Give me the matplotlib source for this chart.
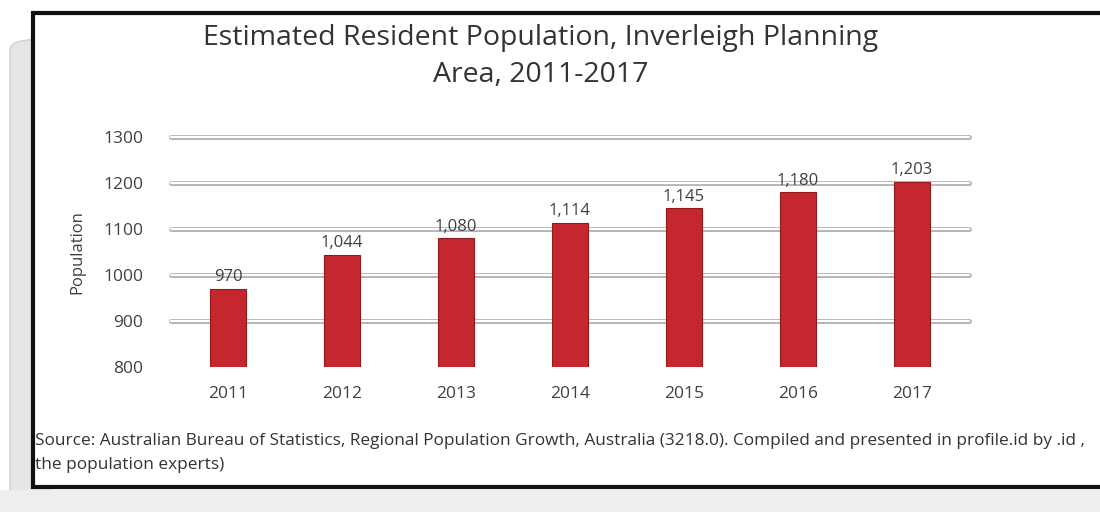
import matplotlib.pyplot as plt
from matplotlib.patches import Rectangle, FancyBboxPatch

years = ["2011", "2012", "2013", "2014", "2015", "2016", "2017"]
population = [970, 1044, 1080, 1114, 1145, 1180, 1203]
y_ticks = [800, 900, 1000, 1100, 1200, 1300]

TEXT = "#404040"
BAR = "#c4282e"
BAR_EDGE = "#8e1a1f"

plt.rcParams["font.family"] = ["Open Sans", "DejaVu Sans"]

fig = plt.figure(figsize=(11, 5.12), dpi=100)
fig.patch.set_facecolor("white")

# soft shadow behind the chart card
fig.patches.append(FancyBboxPatch((10 / 1100, 12 / 512), 40 / 1100, 460 / 512,
                                  boxstyle="round,pad=0.0,rounding_size=0.02",
                                  transform=fig.transFigure, facecolor="#e6e6e6",
                                  edgecolor="#d2d2d2", linewidth=1, zorder=0))
fig.patches.append(Rectangle((0, 0), 1, 22 / 512, transform=fig.transFigure,
                             facecolor="#eeeeee", edgecolor="none", zorder=0))
fig.patches.append(Rectangle((33 / 1100, 25 / 512), 1.0, 474 / 512,
                             transform=fig.transFigure, facecolor="white",
                             edgecolor="#111111", linewidth=3, zorder=1))

ax = fig.add_axes([171 / 1100, 1 - 367 / 512, 798 / 1100, 230 / 512])
ax.set_facecolor("none")
ax.set_zorder(2)

x = list(range(len(years)))
# double-stroke gridlines
for v in y_ticks[1:]:
    ax.axhline(v, color="#b4b4b4", linewidth=3.6, solid_capstyle="round",
               zorder=1, clip_on=False)
    ax.axhline(v, color="white", linewidth=1.6, solid_capstyle="round",
               zorder=1.1, clip_on=False)

bars = ax.bar(x, population, bottom=0, width=0.31, color=BAR,
              edgecolor=BAR_EDGE, linewidth=0.8, zorder=2)

for xi, val in zip(x, population):
    ax.text(xi, val + 8, f"{val:,}", ha="center", va="bottom",
            fontsize=12, color=TEXT, zorder=3)

ax.set_xlim(-0.5, 6.5)
ax.set_ylim(800, 1300)
ax.set_yticks(y_ticks)
ax.set_xticks(x)
ax.set_xticklabels(years)
ax.tick_params(axis="both", length=0, labelsize=12.5, colors=TEXT)
ax.tick_params(axis="y", pad=20)
ax.tick_params(axis="x", pad=14)
for side in ax.spines.values():
    side.set_visible(False)
ax.set_ylabel("Population", fontsize=12, color=TEXT, labelpad=13)

fig.text(541 / 1100, 1 - 38 / 512, "Estimated Resident Population, Inverleigh Planning",
         ha="center", va="center", fontsize=20.5, color="#333333", zorder=3)
fig.text(541 / 1100, 1 - 75 / 512, "Area, 2011-2017",
         ha="center", va="center", fontsize=20.5, color="#333333", zorder=3)

src = ["Source: Australian Bureau of Statistics, Regional Population Growth, "
       "Australia (3218.0). Compiled and presented in profile.id by .id ,",
       "the population experts)"]
fig.text(35 / 1100, 1 - 441 / 512, src[0], ha="left", va="center", fontsize=12.4,
         color="#333333", zorder=3)
fig.text(35 / 1100, 1 - 465 / 512, src[1], ha="left", va="center", fontsize=12.4,
         color="#333333", zorder=3)

fig.savefig("out.png", dpi=100)
